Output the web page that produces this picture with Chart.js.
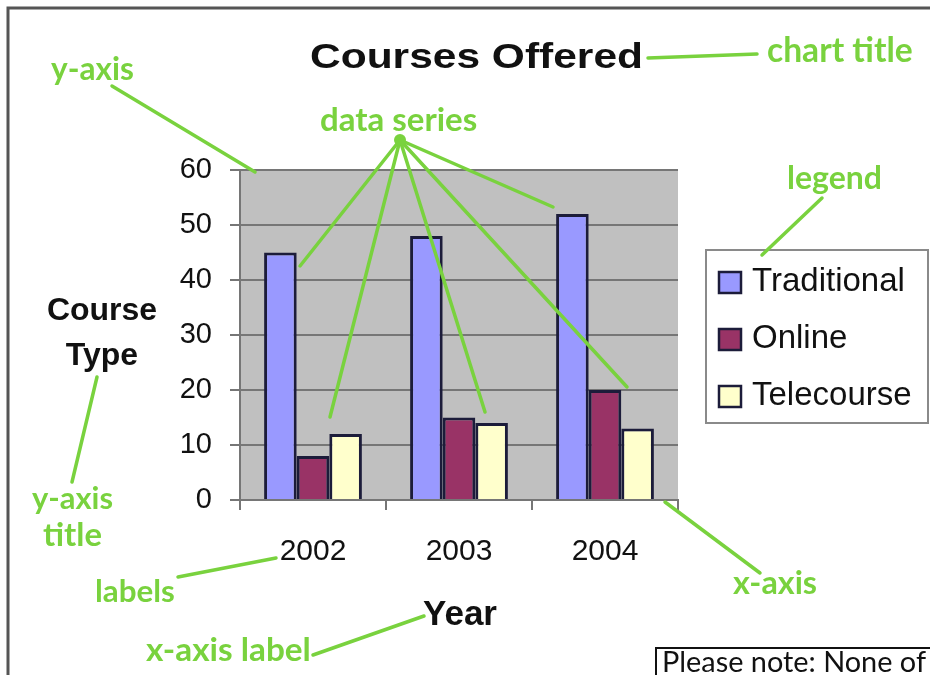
<!DOCTYPE html>
<html>
<head>
<meta charset="utf-8">
<script src="https://cdn.jsdelivr.net/npm/chart.js@4.4.1/dist/chart.umd.min.js"></script>
<style>
  html, body { margin: 0; padding: 0; background: #fff; }
  canvas { display: block; }
</style>
</head>
<body>
<canvas id="chart" width="930" height="675"></canvas>
<script>
'use strict';

const years = ['2002', '2003', '2004'];
const traditional = [45, 48, 52];
const online = [8, 15, 20];
const telecourse = [12, 14, 13];
const seriesNames = ['Traditional', 'Online', 'Telecourse'];
const seriesColors = ['#9999ff', '#993366', '#ffffcc'];
const yMin = 0;
const yMax = 60;
const yStep = 10;

const GREEN = '#79d23e';
const GRID = '#767676';

// annotation callouts: [text, left, baseline, width]
const callouts = [
  ['chart title', 767, 62, 146],
  ['y-axis', 51, 80, 83],
  ['data series', 320, 131, 157],
  ['legend', 787, 189, 95],
  ['y-axis', 32, 509, 81],
  ['title', 43, 546, 59],
  ['labels', 95, 602, 80],
  ['x-axis', 733, 594, 84],
  ['x-axis label', 146, 661, 165]
];

const leaders = [
  [[648, 58], [757, 54]],
  [[112, 86], [255, 172]],
  [[822, 198], [762, 255]],
  [[97, 377], [72, 482]],
  [[178, 577], [276, 558]],
  [[665, 502], [760, 573]],
  [[313, 655], [424, 616]]
];

const hub = [400, 140];
const seriesTargets = [[300, 266], [330, 417], [485, 412], [627, 387], [553, 207]];

function fitText(ctx, text, x, y, width, weight, family) {
  ctx.font = `${weight} 100px ${family}`;
  const size = 100 * width / ctx.measureText(text).width;
  ctx.font = `${weight} ${size.toFixed(1)}px ${family}`;
  ctx.fillText(text, x, y);
}

// draw text at a fixed size, stretched sideways to a given width
function stretchText(ctx, text, x, y, width, font) {
  ctx.font = font;
  const sx = width / ctx.measureText(text).width;
  ctx.save();
  ctx.translate(x, y);
  ctx.scale(sx, 1);
  ctx.fillText(text, 0, 0);
  ctx.restore();
}

const backdrop = {
  id: 'backdrop',
  beforeDraw(chart) {
    const { ctx, chartArea: a } = chart;
    ctx.save();
    ctx.fillStyle = '#ffffff';
    ctx.fillRect(0, 0, chart.width, chart.height);
    ctx.fillStyle = '#c0c0c0';
    ctx.fillRect(a.left, a.top, a.right - a.left, a.bottom - a.top);
    ctx.restore();
  }
};

const decorations = {
  id: 'decorations',
  afterDraw(chart) {
    const { ctx } = chart;
    ctx.save();

    // outer frame
    ctx.strokeStyle = '#555';
    ctx.lineWidth = 3;
    ctx.strokeRect(8, 8, 940, 700);

    // chart title
    ctx.fillStyle = '#111';
    ctx.textAlign = 'left';
    ctx.textBaseline = 'alphabetic';
    stretchText(ctx, 'Courses Offered', 310, 68, 333, 'bold 35px "Liberation Sans", Arial, sans-serif');

    // axis titles
    ctx.textAlign = 'center';
    ctx.font = 'bold 32px "Liberation Sans", Arial, sans-serif';
    ctx.fillText('Course', 102, 320);
    ctx.fillText('Type', 102, 365);
    ctx.font = 'bold 35px "Liberation Sans", Arial, sans-serif';
    ctx.fillText('Year', 460, 625);

    // legend
    ctx.strokeStyle = '#8a8a8a';
    ctx.lineWidth = 2;
    ctx.strokeRect(706, 250, 222, 173);
    const rows = [282, 339, 396];
    ctx.textAlign = 'left';
    ctx.font = '33px "Liberation Sans", Arial, sans-serif';
    chart.data.datasets.forEach((ds, i) => {
      ctx.fillStyle = ds.backgroundColor;
      ctx.fillRect(719, rows[i] - 10, 22, 21);
      ctx.strokeStyle = '#1c1c3a';
      ctx.lineWidth = 2.5;
      ctx.strokeRect(719, rows[i] - 10, 22, 21);
      ctx.fillStyle = '#111';
      ctx.fillText(ds.label, 752, rows[i] + 9);
    });

    // green callouts
    ctx.strokeStyle = GREEN;
    ctx.fillStyle = GREEN;
    ctx.lineWidth = 3.5;
    ctx.lineCap = 'round';
    leaders.forEach(([p, q]) => {
      ctx.beginPath();
      ctx.moveTo(p[0], p[1]);
      ctx.lineTo(q[0], q[1]);
      ctx.stroke();
    });
    seriesTargets.forEach((t) => {
      ctx.beginPath();
      ctx.moveTo(hub[0], hub[1]);
      ctx.lineTo(t[0], t[1]);
      ctx.stroke();
    });
    ctx.beginPath();
    ctx.arc(hub[0], hub[1], 6, 0, Math.PI * 2);
    ctx.fill();
    callouts.forEach(([text, x, y, w]) => fitText(ctx, text, x, y, w, 'bold', 'Lato, sans-serif'));

    // footnote box
    ctx.fillStyle = '#fff';
    ctx.fillRect(656, 648, 280, 30);
    ctx.strokeStyle = '#111';
    ctx.lineWidth = 2;
    ctx.strokeRect(656, 648, 280, 30);
    ctx.fillStyle = '#111';
    stretchText(ctx, 'Please note: None of', 662, 672, 264, '28px Lato, sans-serif');

    ctx.restore();
  }
};

Chart.defaults.font.family = '"Liberation Sans", Arial, sans-serif';
Chart.defaults.color = '#111';

new Chart(document.getElementById('chart'), {
  type: 'bar',
  data: {
    labels: years,
    datasets: [traditional, online, telecourse].map((values, i) => ({
      label: seriesNames[i],
      data: values,
      backgroundColor: seriesColors[i],
      borderColor: '#1c1c3a',
      borderWidth: 3,
      borderSkipped: 'start',
      barPercentage: 1,
      categoryPercentage: 0.67
    }))
  },
  options: {
    responsive: false,
    devicePixelRatio: 1,
    animation: false,
    layout: { padding: { left: 0, top: 170, right: 252, bottom: 0 } },
    plugins: {
      legend: { display: false },
      title: { display: false },
      tooltip: { enabled: false }
    },
    scales: {
      x: {
        offset: true,
        grid: { offset: true, drawOnChartArea: false, color: GRID, lineWidth: 2, tickLength: 10 },
        border: { color: GRID, width: 2 },
        ticks: { font: { size: 30 }, color: '#111', padding: 24 },
        afterFit: (scale) => { scale.height = 175; }
      },
      y: {
        min: yMin,
        max: yMax,
        ticks: { stepSize: yStep, font: { size: 29 }, color: '#111', padding: 18 },
        grid: { color: GRID, lineWidth: 2, tickLength: 10 },
        border: { color: GRID, width: 2 },
        afterFit: (scale) => { scale.width = 240; }
      }
    }
  },
  plugins: [backdrop, decorations]
});
</script>
</body>
</html>
